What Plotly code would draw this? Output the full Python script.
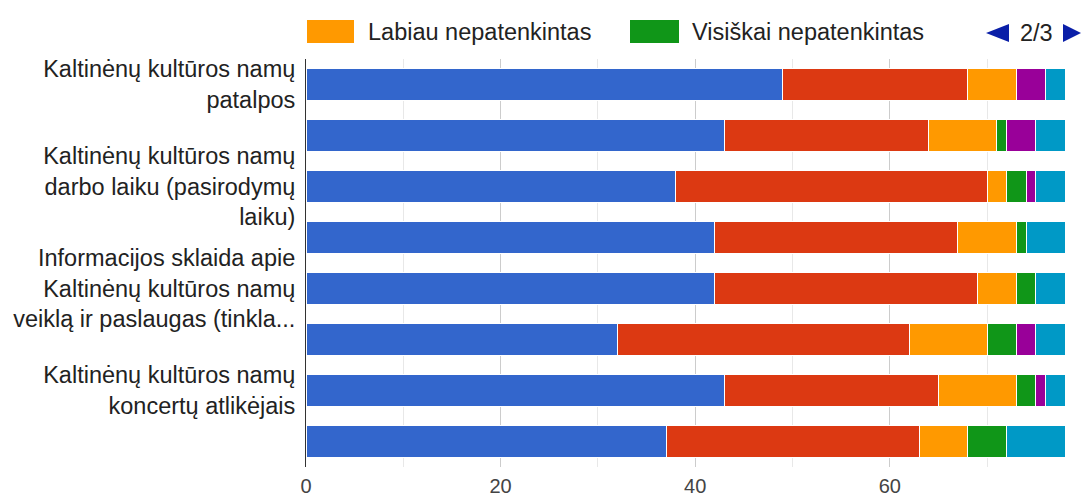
import plotly.graph_objects as go

# ---------------- data ----------------
row_labels = [
    "Kaltinėnų kultūros namų<br>patalpos",
    "",
    "Kaltinėnų kultūros namų<br>darbo laiku (pasirodymų<br>laiku)",
    "",
    "Informacijos sklaida apie<br>Kaltinėnų kultūros namų<br>veiklą ir paslaugas (tinkla...",
    "",
    "Kaltinėnų kultūros namų<br>koncertų atlikėjais",
    "",
]
row_index = [0, 1, 2, 3, 4, 5, 6, 7]

series_names = [
    "Visiškai patenkintas",
    "Labiau patenkintas",
    "Labiau nepatenkintas",
    "Visiškai nepatenkintas",
    "Nei patenkintas, nei nepatenkintas",
    "Neturiu nuomonės",
]
visiskai_patenkintas = [49, 43, 38, 42, 42, 32, 43, 37]
labiau_patenkintas = [19, 21, 32, 25, 27, 30, 22, 26]
labiau_nepatenkintas = [5, 7, 2, 6, 4, 8, 8, 5]
visiskai_nepatenkintas = [0, 1, 2, 1, 2, 3, 2, 4]
nei_nei = [3, 3, 1, 0, 0, 2, 1, 0]
neturiu_nuomones = [2, 3, 3, 4, 3, 3, 2, 6]
series_values = [visiskai_patenkintas, labiau_patenkintas, labiau_nepatenkintas,
                 visiskai_nepatenkintas, nei_nei, neturiu_nuomones]

x_tick_values = [0, 20, 40, 60]
legend_page_items = [2, 3]
legend_page_text = "2/3"

# ---------------- style ----------------
colors = ["#3366cc", "#dc3912", "#ff9900", "#109618", "#990099", "#0099c6"]
FONT = "Liberation Sans, Arial, sans-serif"
FS = 23.5
W, H = 1081, 498
L, R, T, B = 306, 16, 59, 31
PW, PH = W - L - R, H - T - B


def px(x):
    return (x - L) / PW


def py(y):
    return (H - B - y) / PH


fig = go.Figure()
for name, vals, col in zip(series_names, series_values, colors):
    fig.add_trace(go.Bar(
        y=row_index, x=vals, name=name, orientation="h",
        marker=dict(color=col, line=dict(color="white", width=1)),
        showlegend=False,
    ))

# manual legend (page 2/3)
shapes = []
annotations = []
legend_x = [(307, 354, 366), (630, 679, 690)]
for (x0, x1, tx), idx in zip(legend_x, legend_page_items):
    shapes.append(dict(type="rect", xref="paper", yref="paper",
                       x0=px(x0), x1=px(x1), y0=py(43), y1=py(20),
                       fillcolor=colors[idx], line=dict(width=0)))
    annotations.append(dict(xref="paper", yref="paper", x=px(tx), y=py(31.5),
                            xanchor="left", yanchor="middle", showarrow=False,
                            text=series_names[idx],
                            font=dict(family=FONT, size=FS, color="#222222")))

arrow_col = "#0a1fa8"
shapes.append(dict(type="path", xref="paper", yref="paper",
                   path=f"M {px(1009)},{py(24)} L {px(1009)},{py(42)} L {px(986)},{py(33)} Z",
                   fillcolor=arrow_col, line=dict(width=0)))
shapes.append(dict(type="path", xref="paper", yref="paper",
                   path=f"M {px(1063)},{py(24)} L {px(1063)},{py(42)} L {px(1081)},{py(33)} Z",
                   fillcolor=arrow_col, line=dict(width=0)))
annotations.append(dict(xref="paper", yref="paper", x=px(1036), y=py(32.5),
                        xanchor="center", yanchor="middle", showarrow=False,
                        text=legend_page_text,
                        font=dict(family=FONT, size=FS, color="#222222")))

fig.update_layout(
    width=W, height=H,
    margin=dict(l=L, r=R, t=T, b=B, pad=0, autoexpand=False),
    barmode="stack", bargap=0.37,
    plot_bgcolor="white", paper_bgcolor="white",
    font=dict(family=FONT, size=FS, color="#222222"),
    shapes=shapes, annotations=annotations,
    showlegend=False,
)
fig.update_xaxes(
    range=[0, 78], tickvals=x_tick_values, ticktext=[str(v) for v in x_tick_values],
    showgrid=True, gridcolor="#cccccc", gridwidth=1,
    minor=dict(dtick=10, tick0=0, showgrid=True, gridcolor="#e8e8e8"),
    zeroline=False, showline=False, automargin=False,
    tickfont=dict(family=FONT, size=20, color="#444444"),
    ticks="", ticklabelstandoff=5, fixedrange=True,
)
fig.update_yaxes(
    range=[7.5, -0.5], tickvals=row_index, ticktext=row_labels,
    showgrid=False, zeroline=False, automargin=False,
    showline=True, linecolor="#333333", linewidth=1,
    tickfont=dict(family=FONT, size=FS, color="#222222"),
    ticks="", ticklabelstandoff=5, fixedrange=True,
)

fig.write_html(
    "out.html",
    config={"displayModeBar": False},
    post_script="document.body.style.margin='0';document.body.style.overflow='hidden';",
)
